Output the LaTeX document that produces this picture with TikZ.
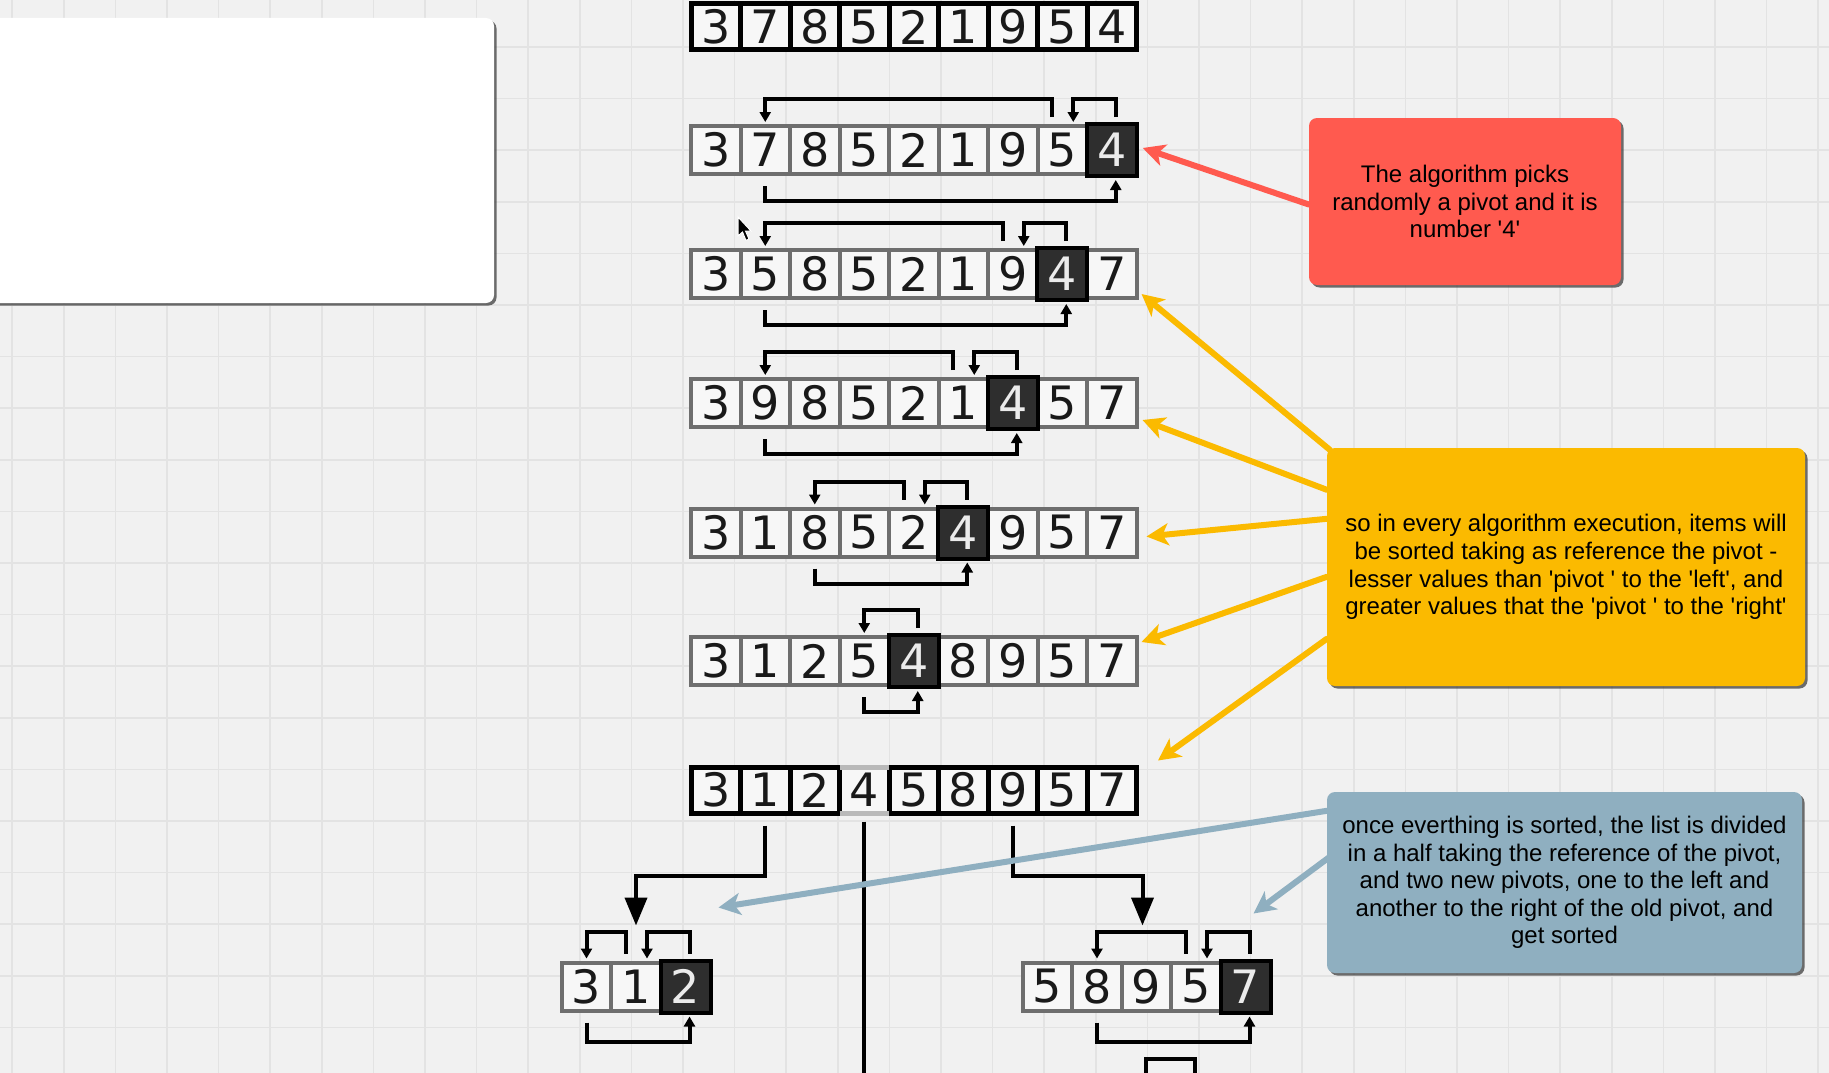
\documentclass[tikz,border=0pt]{standalone}
\usepackage{fontspec}
\setmainfont{Liberation Sans}
\newfontfamily\notefont{Liberation Sans}[Ligatures=TeXOff]
\newfontfamily\digitfont{DejaVu Sans}
\usetikzlibrary{arrows.meta,shadows}
\definecolor{bgc}{HTML}{F1F1F1}
\definecolor{gridc}{HTML}{E3E3E3}
\definecolor{cellgray}{HTML}{6E6E6E}
\definecolor{cellfill}{HTML}{F7F7F7}
\definecolor{pivfill}{HTML}{2E2E2E}
\definecolor{redc}{HTML}{FF5A4F}
\definecolor{yelc}{HTML}{FBBA00}
\definecolor{bluec}{HTML}{8FAFC0}
% #1 prefix, #2 first centre x, #3 centre y, #4 digits, #5 style, #6 pivot index (-1: none)
\newcommand\qsrow[6]{\foreach \d [count=\i from 0] in {#4} {%
  \ifnum\i=#6\relax \node[#5] (#1c\i) at ({#2+49.5*\i},#3) {};%
  \else \node[#5] (#1c\i) at ({#2+49.5*\i},#3) {\d};\fi}}
\newcommand\qsbrk[4]{%
  \pgfmathtruncatemacro\qq{#3-1}%
  \draw[bk] ([xshift=-10pt,yshift=7pt]#1c\qq.north) |- ([yshift=#4]#1c#2.north) -- ([yshift=2pt]#1c#2.north);
  \draw[bk] ([xshift=4pt,yshift=7pt]#1c#3.north) |- ([xshift=11pt,yshift=#4]#1c\qq.north) -- ([xshift=11pt,yshift=2pt]#1c\qq.north);
  \draw[bk] ([yshift=-10pt]#1c#2.south) |- ([xshift=4pt,yshift=-#4]#1c#3.south) -- ([xshift=4pt,yshift=-4pt]#1c#3.south);
}
\begin{document}
\begin{tikzpicture}[x=1pt,y=-1pt,
  cell/.style={draw=cellgray,line width=4pt,fill=cellfill,minimum width=49.5pt,minimum height=48pt,inner sep=0pt,font=\digitfont\fontsize{46}{46}\selectfont,text=black!90},
  bcell/.style={cell,draw=black,line width=5pt,minimum height=46pt},
  pcell/.style={cell,draw=black,fill=pivfill,text=white!92!black,minimum width=50pt,minimum height=52pt},
  bk/.style={line width=4pt,-{Triangle[length=10pt,width=11pt]}},
  conn/.style={line width=4pt,-{Triangle[length=28pt,width=22pt]}},
  note/.style={rounded corners=8pt,inner sep=0pt,align=center,font=\notefont\fontsize{24}{27.6}\selectfont,drop shadow={shadow xshift=2.5pt,shadow yshift=-2.5pt,opacity=0.7,fill=black!80}},
  callarrow/.style={line width=6pt,line cap=round,-{Stealth[length=22pt,width=22pt,inset=6pt]}}]
\fill[bgc] (0,0) rectangle (1829,1073);
\useasboundingbox (0,0) rectangle (1829,1073);
\foreach \k in {0,...,35} {\draw[gridc,line width=1.5pt] ({12.2+51.6*\k},0) -- ({12.2+51.6*\k},1073);}
\foreach \k in {0,...,21} {\draw[gridc,line width=1.5pt] (0,{-4.6+51.6*\k}) -- (1829,{-4.6+51.6*\k});}

% left blank panel
\node[note,fill=white,minimum width=520pt,minimum height=285pt] (panel) at (234,160.5) {};

% arrays
\qsrow{ra}{715.75}{27}{3,7,8,5,2,1,9,5,4}{bcell}{-1}
\qsrow{rb}{715.75}{150}{3,7,8,5,2,1,9,5,4}{cell}{8}
\node[pcell] (rbp) at (rbc8) {4};
\qsrow{rc}{715.75}{274}{3,5,8,5,2,1,9,4,7}{cell}{7}
\node[pcell] (rcp) at (rcc7) {4};
\qsrow{rd}{715.75}{403}{3,9,8,5,2,1,4,5,7}{cell}{6}
\node[pcell] (rdp) at (rdc6) {4};
\qsrow{re}{715.75}{532.5}{3,1,8,5,2,4,9,5,7}{cell}{5}
\node[pcell] (rep) at (rec5) {4};
\qsrow{rf}{715.75}{661}{3,1,2,5,4,8,9,5,7}{cell}{4}
\node[pcell] (rfp) at (rfc4) {4};
\qsrow{rg}{715.75}{790}{3,1,2,4,5,8,9,5,7}{bcell}{-1}
\draw[line width=5pt,draw=gray!55] ([xshift=2.5pt,yshift=-2.5pt]rgc3.north west) -- ([xshift=-2.5pt,yshift=-2.5pt]rgc3.north east);
\draw[line width=5pt,draw=gray!55] ([xshift=2.5pt,yshift=2.5pt]rgc3.south west) -- ([xshift=-2.5pt,yshift=2.5pt]rgc3.south east);
\qsrow{sl}{586.5}{986.5}{3,1,2}{cell}{2}
\node[pcell] (slp) at (slc2) {2};
\qsrow{sr}{1047.5}{986.5}{5,8,9,5,7}{cell}{4}
\node[pcell] (srp) at (src4) {7};

% swap brackets
\qsbrk{rb}{1}{8}{25pt}
\qsbrk{rc}{1}{7}{25pt}
\qsbrk{rd}{1}{6}{25pt}
\qsbrk{re}{2}{5}{25pt}
\draw[bk] ([xshift=4pt,yshift=7pt]rfc4.north) |- ([yshift=25pt]rfc3.north) -- ([yshift=2pt]rfc3.north);
\draw[bk] ([yshift=-10pt]rfc3.south) |- ([xshift=4pt,yshift=-25pt]rfc4.south) -- ([xshift=4pt,yshift=-4pt]rfc4.south);
\qsbrk{sl}{0}{2}{29pt}
\qsbrk{sr}{1}{4}{29pt}

% split connectors
\coordinate (bot) at (866,1073);
\draw[line width=4pt] ([yshift=-6pt]rgc3.south) -- (rgc3.south |- bot);
\draw[conn] ([yshift=-10pt]rgc1.south) -- ++(0,50) -| ([yshift=35pt]slc1.north);
\draw[conn] ([yshift=-10pt]rgc6.south) -- ++(0,50) -| ([xshift=-4pt,yshift=35pt]src2.north);
\coordinate (pkA) at (1195,1080);
\coordinate (pkC) at (1170,1059);
\coordinate (pkB) at (1146,1080);
\draw[line width=4pt] (pkA) |- (pkC) -| (pkB);

% mouse cursor
\fill[black,draw=white,line width=1pt] (738,217) -- (738,236) -- (742.5,232) -- (746,240.5) -- (749,239) -- (745.5,231) -- (751,231) -- cycle;

% callouts
\node[note,fill=redc,minimum width=312pt,minimum height=167pt] (red) at (1465,201.5) {The algorithm picks\\randomly a pivot and it is\\number '4'};
\node[note,fill=yelc,minimum width=478pt,minimum height=238pt] (yel) at (1566,567) {so in every algorithm execution, items will\\be sorted taking as reference the pivot -\\lesser values than 'pivot ' to the 'left', and\\greater values that the 'pivot ' to the 'right'};
\node[note,fill=bluec,minimum width=475pt,minimum height=181pt] (blu) at (1564.5,882.5) {once everthing is sorted, the list is divided\\in a half taking the reference of the pivot,\\and two new pivots, one to the left and\\another to the right of the old pivot, and\\get sorted};

\draw[callarrow,redc] ([yshift=-3pt]red.west) -- ([xshift=4pt,yshift=2pt]rbp.east);
\draw[callarrow,yelc] ([xshift=3pt,yshift=-2pt]yel.north west) -- ([xshift=3pt,yshift=6pt]rcc8.south east);
\draw[callarrow,yelc] ([yshift=-42pt]yel.north west) -- ([xshift=4pt,yshift=-17pt]rdc8.east);
\draw[callarrow,yelc] ([yshift=-71pt]yel.north west) -- ([xshift=8pt,yshift=-4pt]rec8.east);
\draw[callarrow,yelc] ([yshift=-129pt]yel.north west) -- ([xshift=3pt,yshift=-7pt]rfc8.north east);
\draw[callarrow,yelc] ([yshift=-191pt]yel.north west) -- ([xshift=19pt,yshift=4pt]rgc8.north east);
\draw[callarrow,bluec] ([yshift=-19pt]blu.north west) -- ([xshift=6pt,yshift=51pt]slp.north east);
\draw[callarrow,bluec] ([xshift=3pt,yshift=-65pt]blu.north west) -- ([xshift=8pt,yshift=45pt]srp.north);
\end{tikzpicture}
\end{document}
